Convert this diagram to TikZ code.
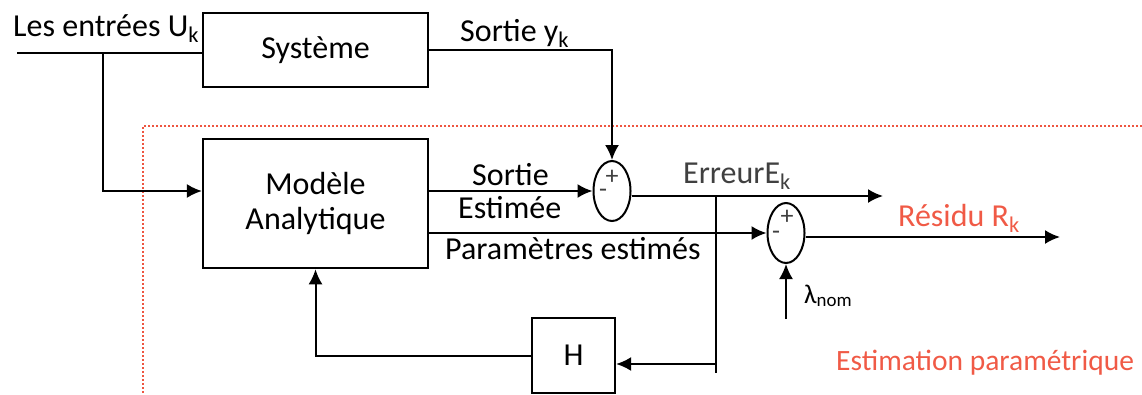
\documentclass[tikz,border=0pt]{standalone}
\usepackage{fontspec}
\setmainfont{Carlito}
\usetikzlibrary{arrows.meta,positioning,shapes.geometric}
\definecolor{resred}{HTML}{F05A46}
\definecolor{errgray}{HTML}{404040}
\definecolor{framered}{HTML}{EE5540}

\begin{document}
\begin{tikzpicture}[x=1pt,y=-1pt, every node/.style={font=\fontsize{32}{35}\selectfont,inner sep=0pt},
 box/.style={draw,line width=2.2pt,align=center,minimum width=225pt},
 summ/.style={draw,ellipse,line width=2pt,minimum width=37pt,minimum height=60pt,inner sep=0pt},
 sign/.style={font=\fontsize{26}{28}\selectfont,text=errgray},
 lbl/.style={anchor=base west},
 wire/.style={line width=2pt},
 arr/.style={wire,-{Latex[length=15pt,width=14pt]}},
 frame/.style={draw=framered,line width=1.6pt,dash pattern=on 1.6pt off 2.4pt}]
\useasboundingbox (0,0) rectangle (1142,394);
\node[box,minimum height=74pt] (sys) at (315.5,50) {Système};
\node[box,minimum height=129pt,below=50pt of sys] (mod) {Modèle\\Analytique};
\node[summ] (sum1) at (612,191) {};
\node[summ] (sum2) at (786,233) {};
\node[box,minimum width=83pt,minimum height=75pt] (h) at (573.5,355.5) {H};
\node[sign] (p1) at (612,177) {+};
\node[sign] (m1) at (603,193) {-};
\node[sign] (p2) at (787,217) {+};
\node[sign] (m2) at (776,235) {-};
% free ends of the connectors
\coordinate (in) at (17,53);
\coordinate (br) at (103,53);
\coordinate (jn) at (716,196);
\coordinate (jb) at (716,373);
\coordinate (hin) at (716,364);
\coordinate (eout) at (883,196);
\coordinate (rout) at (1060,237);
\coordinate (lam) at (786,319);
\coordinate (ftr) at (1142,126);
\coordinate (fbl) at (143,394);
\draw[frame] (ftr) -| (fbl);
\draw[wire] (in) -- (in -| sys.west);
\draw[arr] (br) |- (sum1 -| mod.west);
\draw[arr] (sys.east) -| (sum1.north);
\draw[arr] (sum1 -| mod.east) -- (sum1.west);
\draw[arr] (eout -| sum1.east) -- (eout);
\draw[wire] (jn) -- (jb);
\draw[arr] (hin) -- (hin -| h.east);
\draw[arr] (h.west) -| (mod.south);
\draw[arr] (sum2 -| mod.east) -- (sum2.west);
\draw[arr] (rout -| sum2.east) -- (rout);
\draw[arr] (lam) -- (sum2.south);
% labels
\node[lbl] (inlbl) at (13,36) {Les entrées U\textsubscript{k}};
\node[lbl] (ylbl) at (460,41) {Sortie y\textsubscript{k}};
\node[lbl] (selbl) at (472,185) {Sortie};
\node[lbl] (eelbl) at (458,218) {Estimée};
\node[lbl,text=errgray] (errlbl) at (683,183) {ErreurE\textsubscript{k}};
\node[lbl,text=resred] (reslbl) at (898,226) {Résidu R\textsubscript{k}};
\node[lbl] (parlbl) at (445,259) {Paramètres estimés};
\node[lbl,font=\fontsize{27}{30}\selectfont] (lamlbl) at (804,303) {λ\textsubscript{nom}};
\node[lbl,text=resred,font=\fontsize{29.5}{32}\selectfont] (estlbl) at (836,370) {Estimation paramétrique};
\end{tikzpicture}
\end{document}
